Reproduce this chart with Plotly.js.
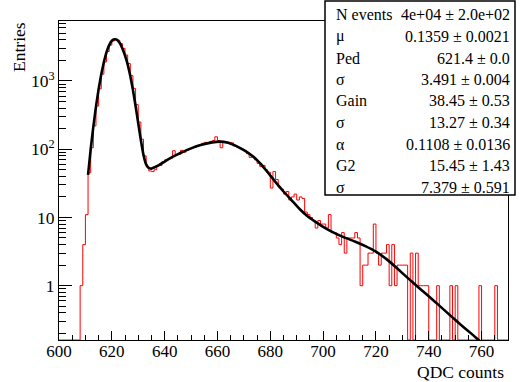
<!DOCTYPE html>
<html>
<head>
<meta charset="utf-8">
<script src="https://cdn.plot.ly/plotly-3.0.1.min.js"></script>
<style>html,body{margin:0;padding:0;background:#fff;}</style>
</head>
<body>
<div id="chart"></div>
<script>
// Histogram: lower edge of first bin, bin width, counts per bin (600..769)
const binStart = 600;
const binWidth = 1;
const counts = [
  0,0,0,0,0,0,0,0,1,4,            // 600-609
  11,45,105,220,430,770,1260,1900,2700,3350, // 610-619
  3850,4050,3950,3550,3000,2400,1800,1200,780,450, // 620-629
  250,140,80,56,48,47,50,57,58,66, // 630-639
  70,71,74,95,82,84,96,90,96,100,  // 640-649
  104,106,110,116,122,126,124,130,134,152, // 650-659
  134,105,128,128,126,124,112,108,104,100, // 660-669
  96,86,76,78,70,62,56,58,50,46,   // 670-679
  27,47,36,28,26,22,24,18,20,22,   // 680-689
  18,20,19,12,11,10,9,7,9,8,       // 690-699
  8,7,11,6,6,5,4,6,3,5,            // 700-709
  5,5,6,5,1,2,2,3,3,8,             // 710-719
  3,2,3,3,4,1,4,1,2,2,             // 720-729
  2,2,0,3,0,3,1,1,1,1,             // 730-739
  0,0,0,1,0,0,0,0,1,0,             // 740-749
  1,0,0,0,0,0,0,0,0,1,             // 750-759
  0,0,0,0,0,1,0,0,0,0              // 760-769
];

// Fit curve
const fitX = [611,612,613,614,615,616,617,618,619,620,621,622,623,624,625,626,627,628,629,630,631,632,633,634,635,636,638,640,643,646,650,654,658,661,664,667,670,673,676,679,682,685,688,691,694,697,700,704,708,712,716,720,724,728,732,736,740,744,748,752,756,760];
const fitY = [42,100,215,420,760,1250,1900,2650,3350,3880,4080,4000,3600,3000,2350,1750,1180,740,430,240,135,82,60,53,52,54,59,66,77,88,103,116,126,129,124,112,97,81,63,46,33,24,18,13.4,10.5,8.7,7.3,6.0,5.1,4.45,3.8,3.15,2.45,1.8,1.3,0.95,0.7,0.51,0.37,0.27,0.2,0.147];

// Statistics box
const statNames = ["N events","μ","Ped","σ","Gain","σ","α","G2","σ"];
const statValues = ["4e+04 ± 2.0e+02","0.1359 ± 0.0021","621.4 ± 0.0","3.491 ± 0.004","38.45 ± 0.53","13.27 ± 0.34","0.1108 ± 0.0136","15.45 ± 1.43","7.379 ± 0.591"];

// y tick labels
const yTickVals = [1,10,100,1000];
const yTickText = ["1","10","10<sup>2</sup>","10<sup>3</sup>"];

const FONT = "Liberation Serif";
const yMin = Math.pow(10,-0.796);

// build step outline from bins
const hx = [], hy = [];
for (let i = 0; i < counts.length; i++) {
  const v = counts[i] > 0 ? counts[i] : yMin;
  hx.push(binStart + i*binWidth); hy.push(v);
}
hx.push(binStart + counts.length*binWidth); hy.push(counts[counts.length-1] > 0 ? counts[counts.length-1] : yMin);

const minorVals = [];
for (let d = -1; d <= 3; d++) for (let k = 2; k <= 9; k++) minorVals.push(k*Math.pow(10,d));

const traces = [
  {x: hx, y: hy, type:'scatter', mode:'lines', line:{shape:'hv', color:'#ff0000', width:1}, hoverinfo:'skip'},
  {x: fitX, y: fitY, type:'scatter', mode:'lines', line:{shape:'spline', smoothing:0.3, color:'#000000', width:2.6}, hoverinfo:'skip'}
];

// layout geometry helpers (plot area: x 59..508, y 21..340)
const L = 59, T = 21, W = 449, H = 319;
const px = x => (x - L)/W;
const py = y => (T + H - y)/H;

const annotations = [];
for (let i = 0; i < statNames.length; i++) {
  const yc = 15 + i*21.5;
  annotations.push({xref:'paper', yref:'paper', x:px(334), y:py(yc), xanchor:'left', yanchor:'middle', text:statNames[i], showarrow:false, font:{family:FONT, size:16, color:'black'}});
  annotations.push({xref:'paper', yref:'paper', x:px(512), y:py(yc), xanchor:'right', yanchor:'middle', text:statValues[i], showarrow:false, font:{family:FONT, size:16, color:'black'}});
}
annotations.push({xref:'paper', yref:'paper', x:px(19), y:py(47), xanchor:'center', yanchor:'middle', textangle:-90, text:'Entries', showarrow:false, font:{family:FONT, size:17.5, color:'black'}});
annotations.push({xref:'paper', yref:'paper', x:px(506), y:py(372), xanchor:'right', yanchor:'middle', text:'QDC counts', showarrow:false, font:{family:FONT, size:17.5, color:'black'}});

const layout = {
  width:520, height:382,
  font:{family:FONT, color:'black'},
  margin:{l:L, r:520-L-W, t:T, b:382-T-H, pad:0},
  paper_bgcolor:'white', plot_bgcolor:'white',
  showlegend:false,
  xaxis:{range:[600,770], showgrid:false, zeroline:false, showline:true, mirror:true, linecolor:'black', linewidth:1,
    ticks:'inside', ticklen:9, tickcolor:'black', tickmode:'linear', tick0:600, dtick:20, ticklabelstandoff:-4,
    minor:{ticks:'inside', ticklen:5, tickmode:'linear', tick0:600, dtick:5, tickcolor:'black', showgrid:false},
    tickfont:{family:FONT, size:17, color:'black'}},
  yaxis:{type:'log', range:[-0.796,3.879], showgrid:false, zeroline:false, showline:true, mirror:true, linecolor:'black', linewidth:1,
    ticks:'inside', ticklen:13, tickcolor:'black', tickmode:'array', tickvals:yTickVals, ticktext:yTickText,
    minor:{ticks:'inside', ticklen:7, tickmode:'array', tickvals:minorVals, tickcolor:'black', showgrid:false},
    tickfont:{family:FONT, size:17.5, color:'black'}},
  shapes:[
    {type:'rect', xref:'paper', yref:'paper', x0:px(325), x1:px(515), y0:py(195), y1:py(1), fillcolor:'white', line:{color:'black', width:1.5}, layer:'above'}
  ],
  annotations: annotations
};

Plotly.newPlot('chart', traces, layout, {staticPlot:true, displayModeBar:false});
</script>
</body>
</html>
